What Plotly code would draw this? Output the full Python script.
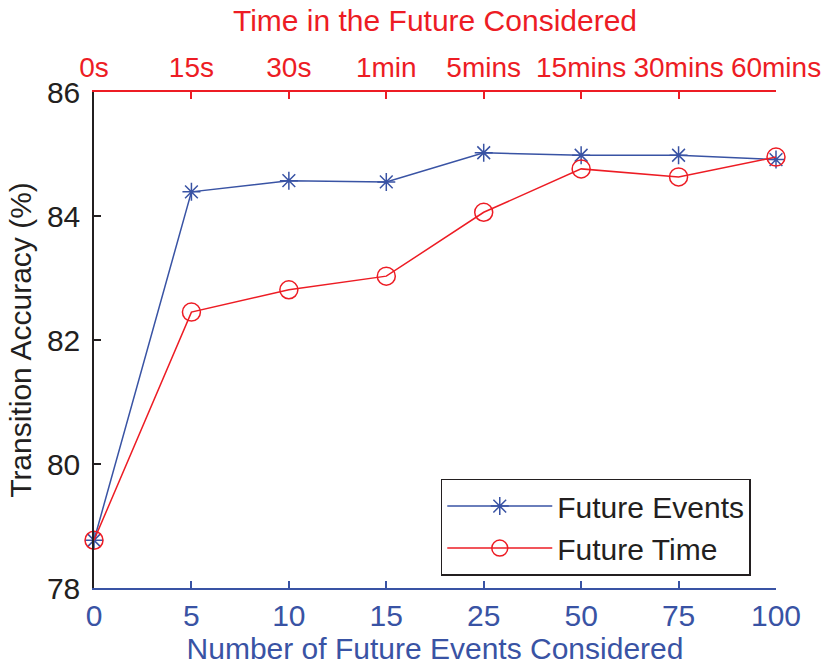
import plotly.graph_objects as go

# Category labels for the two x axes
event_counts = ["0", "5", "10", "15", "25", "50", "75", "100"]
time_windows = ["0s", "15s", "30s", "1min", "5mins", "15mins", "30mins", "60mins"]

# Transition accuracy (%) for each setting
future_events = [78.77, 84.39, 84.57, 84.55, 85.02, 84.98, 84.98, 84.91]
future_time = [78.77, 82.45, 82.81, 83.03, 84.06, 84.76, 84.63, 84.95]

y_ticks = [78, 80, 82, 84, 86]

BLUE = "#3953A4"
RED = "#ED1C24"
BLACK = "#231F20"
FONT = "Liberation Sans, Arial, Helvetica, sans-serif"
FS = 30
FS_TOP = 28

fig = go.Figure()

fig.add_trace(go.Scatter(
    x=event_counts, y=future_events, name="Future Events",
    mode="lines+markers", cliponaxis=False,
    line=dict(color=BLUE, width=1.5),
    marker=dict(symbol="asterisk-open", size=15, color=BLUE,
                line=dict(color=BLUE, width=1.5)),
))
fig.add_trace(go.Scatter(
    x=event_counts, y=future_time, name="Future Time",
    mode="lines+markers", cliponaxis=False,
    line=dict(color=RED, width=1.5),
    marker=dict(symbol="circle-open", size=18, color=RED,
                line=dict(color=RED, width=1.5)),
))
# Empty trace that carries the top time-window axis
fig.add_trace(go.Scatter(
    x=time_windows, y=[None] * len(time_windows), xaxis="x2",
    mode="lines", showlegend=False, hoverinfo="skip",
))

fig.update_layout(
    width=828, height=667,
    margin=dict(l=94, r=52, t=92, b=79),
    paper_bgcolor="white", plot_bgcolor="white",
    font=dict(family=FONT, size=FS, color=BLACK),
    showlegend=True,
    xaxis=dict(
        type="category", range=[0, 7], automargin=False,
        showgrid=False, zeroline=False,
        showline=True, linecolor=BLUE, linewidth=1.5,
        ticks="inside", ticklen=7, tickwidth=1.5, tickcolor=BLUE,
        tickfont=dict(color=BLUE, size=FS, family=FONT),
        ticklabelstandoff=0,
        title=dict(text="Number of Future Events Considered",
                   font=dict(color=BLUE, size=FS, family=FONT), standoff=4),
    ),
    xaxis2=dict(
        type="category", range=[0, 7], automargin=False,
        overlaying="x", side="top", anchor="y",
        showgrid=False, zeroline=False,
        showline=True, linecolor=RED, linewidth=1.5,
        ticks="inside", ticklen=7, tickwidth=1.5, tickcolor=RED,
        tickfont=dict(color=RED, size=FS_TOP, family=FONT),
        ticklabelstandoff=2,
        title=dict(text="Time in the Future Considered",
                   font=dict(color=RED, size=FS, family=FONT), standoff=12),
    ),
    yaxis=dict(
        range=[78, 86], tickvals=y_ticks, automargin=False,
        showgrid=False, zeroline=False,
        showline=True, linecolor=BLACK, linewidth=1.5,
        ticks="inside", ticklen=7, tickwidth=1.5, tickcolor=BLACK,
        tickfont=dict(color=BLACK, size=FS, family=FONT),
        ticklabelstandoff=6,
        title=dict(text="Transition Accuracy (%)",
                   font=dict(color=BLACK, size=FS, family=FONT), standoff=6),
    ),
    legend=dict(
        x=0.963, y=0.025, xanchor="right", yanchor="bottom",
        bgcolor="white", bordercolor=BLACK, borderwidth=1.5,
        font=dict(color=BLACK, size=FS, family=FONT),
        itemwidth=105, tracegroupgap=0,
    ),
)

fig.write_html("out.html")
